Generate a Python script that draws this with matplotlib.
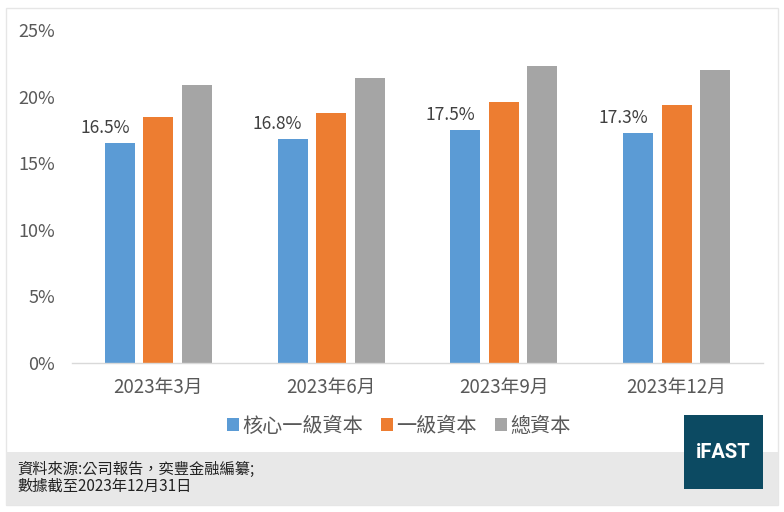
#!/usr/bin/env python3
"""Capital ratio grouped bars, 2023 quarterly."""
import numpy as np
import matplotlib
matplotlib.use("Agg")
import matplotlib.pyplot as plt
from matplotlib.patches import Rectangle

plt.rcParams["font.family"] = ["Noto Sans CJK TC", "DejaVu Sans"]

categories = ["2023年3月", "2023年6月", "2023年9月", "2023年12月"]
series_names = ["核心一級資本", "一級資本", "總資本"]
core_tier1 = [16.5, 16.8, 17.5, 17.3]
tier1 = [18.5, 18.8, 19.6, 19.4]
total_capital = [20.9, 21.4, 22.3, 22.0]
y_ticks = [0, 5, 10, 15, 20, 25]
source_lines = ["資料來源:公司報告，奕豐金融編纂;", "數據截至2023年12月31日"]

colors = ["#5b9bd5", "#ed7d31", "#a5a5a5"]
W, H = 784, 512

fig = plt.figure(figsize=(W / 100, H / 100), dpi=100, facecolor="white")

# outer frame and footer band
fig.patches.append(Rectangle((6 / W, 1 - 505 / H), 772 / W, 497 / H, transform=fig.transFigure,
                             facecolor="white", edgecolor="#e6e6e6", linewidth=1, zorder=-2))
fig.patches.append(Rectangle((6 / W, 1 - 505 / H), 772 / W, 53 / H, transform=fig.transFigure,
                             facecolor="#e8e8e8", edgecolor="none", zorder=-1))
# logo box
fig.patches.append(Rectangle((684 / W, 1 - 489 / H), 79 / W, 74 / H, transform=fig.transFigure,
                             facecolor="#0c4a62", edgecolor="none", zorder=2))
fig.text(723.5 / W, 1 - 452 / H, "iFAST", color="white", fontsize=14.5, fontweight="bold",
         family=["Roboto", "DejaVu Sans"], ha="center", va="center", zorder=3)

for i, line in enumerate(source_lines):
    fig.text(17 / W, 1 - (469 + i * 17) / H, line, fontsize=11, color="#222222",
             ha="left", va="center", zorder=3)

ax = fig.add_axes([72 / W, 1 - 363 / H, 691 / W, 333 / H])
ax.set_facecolor("none")
ax.set_zorder(4)

x = np.arange(len(categories))
width = 0.173
step = 0.223
all_series = [core_tier1, tier1, total_capital]
handles = []
for k, (vals, c) in enumerate(zip(all_series, colors)):
    b = ax.bar(x + (k - 1) * step, vals, width, color=c, zorder=2)
    handles.append(b)

for xi, v in zip(x, core_tier1):
    ax.annotate(f"{v:.1f}%", (xi - step - width / 2, v), xytext=(0, 15),
                textcoords="offset pixels", ha="center", va="center",
                fontsize=12.5, color="#404040")

ax.set_xlim(-0.5, len(categories) - 0.5)
ax.set_ylim(0, 25)
ax.set_yticks(y_ticks)
ax.set_yticklabels([f"{t}%" for t in y_ticks])
ax.set_xticks(x)
ax.set_xticklabels(categories)
ax.tick_params(axis="both", length=0, labelsize=13, colors="#595959")
ax.tick_params(axis="x", labelsize=13.5, pad=10)
ax.tick_params(axis="y", pad=12)
for side in ["top", "right", "left"]:
    ax.spines[side].set_visible(False)
ax.spines["bottom"].set_color("#d9d9d9")
ax.spines["bottom"].set_linewidth(1)

leg = fig.legend(handles, series_names, loc="center", bbox_to_anchor=(399 / W, 1 - 426 / H),
                 ncol=3, frameon=False, fontsize=14.5, handlelength=0.6, handleheight=0.6,
                 handletextpad=0.15, columnspacing=0.9, labelcolor="#595959")

fig.savefig("out.png", dpi=100, facecolor="white")
plt.close(fig)
